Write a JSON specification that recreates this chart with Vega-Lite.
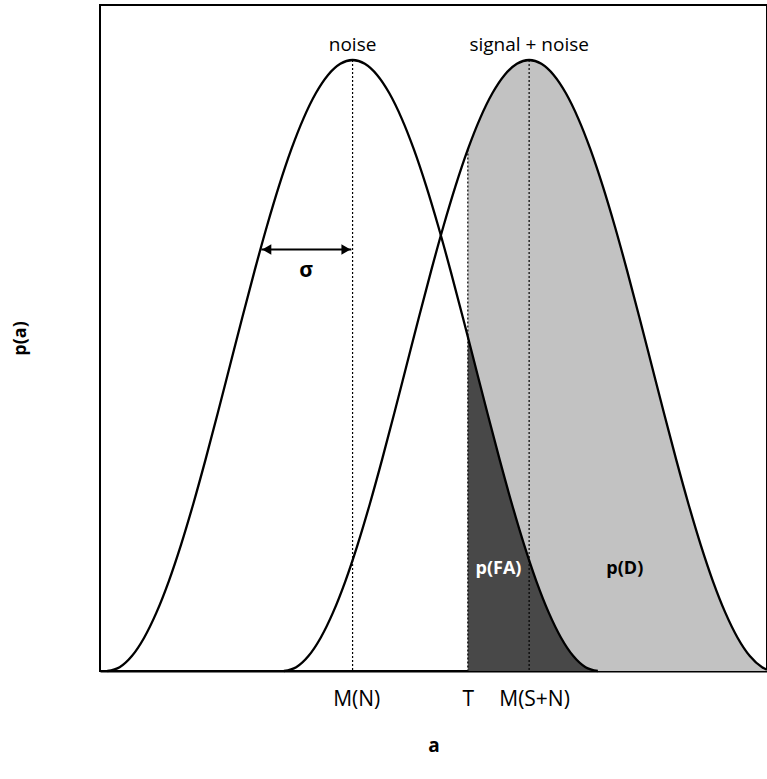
{
  "$schema": "https://vega.github.io/schema/vega-lite/v6.json",
  "autosize": {"type": "none"},
  "padding": {"left": 100, "top": 5, "right": 0, "bottom": 108},
  "width": 667,
  "height": 666,
  "background": "white",
  "config": {
    "view": {"stroke": "black", "strokeWidth": 2},
    "font": "Open Sans",
    "axis": {"labelFont": "Open Sans", "titleFont": "Open Sans", "labelColor": "black", "titleColor": "black", "grid": false}
  },
  "datasets": {
    "noise": [
      {"x": -10, "y": 0}, {"x": -9.5, "y": 0.0062}, {"x": -9, "y": 0.0245}, {"x": -8.5, "y": 0.0545},
      {"x": -8, "y": 0.0955}, {"x": -7.5, "y": 0.1464}, {"x": -7, "y": 0.2061}, {"x": -6.5, "y": 0.273},
      {"x": -6, "y": 0.3455}, {"x": -5.5, "y": 0.4218}, {"x": -5, "y": 0.5}, {"x": -4.5, "y": 0.5782},
      {"x": -4, "y": 0.6545}, {"x": -3.5, "y": 0.727}, {"x": -3, "y": 0.7939}, {"x": -2.5, "y": 0.8536},
      {"x": -2, "y": 0.9045}, {"x": -1.5, "y": 0.9455}, {"x": -1, "y": 0.9755}, {"x": -0.5, "y": 0.9938},
      {"x": 0, "y": 1}, {"x": 0.5, "y": 0.9938}, {"x": 1, "y": 0.9755}, {"x": 1.5, "y": 0.9455},
      {"x": 2, "y": 0.9045}, {"x": 2.5, "y": 0.8536}, {"x": 3, "y": 0.7939}, {"x": 3.5, "y": 0.727},
      {"x": 4, "y": 0.6545}, {"x": 4.5, "y": 0.5782}, {"x": 4.7, "y": 0.5471}, {"x": 5, "y": 0.5},
      {"x": 5.5, "y": 0.4218}, {"x": 6, "y": 0.3455}, {"x": 6.5, "y": 0.273}, {"x": 7, "y": 0.2061},
      {"x": 7.5, "y": 0.1464}, {"x": 8, "y": 0.0955}, {"x": 8.5, "y": 0.0545}, {"x": 9, "y": 0.0245},
      {"x": 9.5, "y": 0.0062}, {"x": 10, "y": 0}
    ],
    "signal": [
      {"x": -2.8, "y": 0}, {"x": -2.3, "y": 0.0062}, {"x": -1.8, "y": 0.0245}, {"x": -1.3, "y": 0.0545},
      {"x": -0.8, "y": 0.0955}, {"x": -0.3, "y": 0.1464}, {"x": 0.2, "y": 0.2061}, {"x": 0.7, "y": 0.273},
      {"x": 1.2, "y": 0.3455}, {"x": 1.7, "y": 0.4218}, {"x": 2.2, "y": 0.5}, {"x": 2.7, "y": 0.5782},
      {"x": 3.2, "y": 0.6545}, {"x": 3.7, "y": 0.727}, {"x": 4.2, "y": 0.7939}, {"x": 4.7, "y": 0.8536},
      {"x": 5.2, "y": 0.9045}, {"x": 5.7, "y": 0.9455}, {"x": 6.2, "y": 0.9755}, {"x": 6.7, "y": 0.9938},
      {"x": 7.2, "y": 1}, {"x": 7.7, "y": 0.9938}, {"x": 8.2, "y": 0.9755}, {"x": 8.7, "y": 0.9455},
      {"x": 9.2, "y": 0.9045}, {"x": 9.7, "y": 0.8536}, {"x": 10.2, "y": 0.7939}, {"x": 10.7, "y": 0.727},
      {"x": 11.2, "y": 0.6545}, {"x": 11.7, "y": 0.5782}, {"x": 12.2, "y": 0.5}, {"x": 12.7, "y": 0.4218},
      {"x": 13.2, "y": 0.3455}, {"x": 13.7, "y": 0.273}, {"x": 14.2, "y": 0.2061}, {"x": 14.7, "y": 0.1464},
      {"x": 15.2, "y": 0.0955}, {"x": 15.7, "y": 0.0545}, {"x": 16.2, "y": 0.0245}, {"x": 16.7, "y": 0.0062},
      {"x": 16.9, "y": 0.0022}
    ],
    "rules": [
      {"x": 0, "y": 1, "y2": 0},
      {"x": 4.7, "y": 0.8536, "y2": 0},
      {"x": 7.2, "y": 1, "y2": 0}
    ],
    "sigma": [{"x": -3.72, "x2": -0.05, "y": 0.69}],
    "heads": [
      {"x": -3.5, "y": 0.69, "shape": "triangle-left"},
      {"x": -0.27, "y": 0.69, "shape": "triangle-right"}
    ],
    "toplabels": [
      {"x": 0, "y": 1.025, "text": "noise"},
      {"x": 7.2, "y": 1.025, "text": "signal + noise"}
    ],
    "sigmalabel": [{"x": -1.9, "y": 0.655, "text": "σ"}],
    "falabel": [{"x": 5.95, "y": 0.167, "text": "p(FA)"}],
    "dlabel": [{"x": 11.1, "y": 0.167, "text": "p(D)"}]
  },
  "layer": [
    {
      "data": {"name": "signal"},
      "transform": [{"filter": "datum.x >= 4.7"}],
      "mark": {"type": "area", "interpolate": "monotone", "color": "#c2c2c2"},
      "encoding": {
        "x": {"field": "x", "type": "quantitative", "scale": {"domain": [-10.3, 16.9], "nice": false, "zero": false},
          "axis": {"title": "a", "titleFontSize": 19, "titleFontWeight": "bold", "titlePadding": 27,
            "values": [0.15, 4.7, 7.4], "labelExpr": "datum.value < 1 ? 'M(N)' : (datum.value < 5 ? 'T' : 'M(S+N)')",
            "labelFontSize": 21, "labelPadding": 17, "ticks": false, "tickSize": 0, "domainColor": "black", "domainWidth": 2, "labelFlush": false}},
        "y": {"field": "y", "type": "quantitative", "scale": {"domain": [0, 1.09], "nice": false},
          "axis": {"title": "p(a)", "titleFontSize": 18, "titleFontWeight": "bold", "labels": false, "ticks": false, "domain": false, "minExtent": 0, "maxExtent": 0, "titlePadding": 71}}
      }
    },
    {
      "data": {"name": "noise"},
      "transform": [{"filter": "datum.x >= 4.7"}],
      "mark": {"type": "area", "interpolate": "monotone", "color": "#484848"},
      "encoding": {"x": {"field": "x", "type": "quantitative"}, "y": {"field": "y", "type": "quantitative"}}
    },
    {
      "data": {"name": "noise"},
      "mark": {"type": "line", "interpolate": "monotone", "color": "black", "strokeWidth": 2.3},
      "encoding": {"x": {"field": "x", "type": "quantitative"}, "y": {"field": "y", "type": "quantitative"}}
    },
    {
      "data": {"name": "signal"},
      "mark": {"type": "line", "interpolate": "monotone", "color": "black", "strokeWidth": 2.3},
      "encoding": {"x": {"field": "x", "type": "quantitative"}, "y": {"field": "y", "type": "quantitative"}}
    },
    {
      "data": {"name": "rules"},
      "mark": {"type": "rule", "color": "black", "strokeWidth": 1.2, "strokeDash": [2, 2]},
      "encoding": {"x": {"field": "x", "type": "quantitative"}, "y": {"field": "y", "type": "quantitative"}, "y2": {"field": "y2"}}
    },
    {
      "data": {"name": "sigma"},
      "mark": {"type": "rule", "color": "black", "strokeWidth": 2},
      "encoding": {"x": {"field": "x", "type": "quantitative"}, "x2": {"field": "x2"}, "y": {"field": "y", "type": "quantitative"}}
    },
    {
      "data": {"name": "heads"},
      "mark": {"type": "point", "filled": true, "color": "black", "size": 110, "opacity": 1},
      "encoding": {"x": {"field": "x", "type": "quantitative"}, "y": {"field": "y", "type": "quantitative"},
        "shape": {"field": "shape", "type": "nominal", "scale": null, "legend": null}}
    },
    {
      "data": {"name": "toplabels"},
      "mark": {"type": "text", "font": "Open Sans", "fontSize": 19, "color": "black", "baseline": "middle", "align": "center"},
      "encoding": {"x": {"field": "x", "type": "quantitative"}, "y": {"field": "y", "type": "quantitative"}, "text": {"field": "text"}}
    },
    {
      "data": {"name": "sigmalabel"},
      "mark": {"type": "text", "font": "Open Sans", "fontSize": 21, "fontWeight": "bold", "color": "black", "baseline": "middle", "align": "center"},
      "encoding": {"x": {"field": "x", "type": "quantitative"}, "y": {"field": "y", "type": "quantitative"}, "text": {"field": "text"}}
    },
    {
      "data": {"name": "falabel"},
      "mark": {"type": "text", "font": "Open Sans", "fontSize": 18, "fontWeight": "bold", "color": "white", "baseline": "middle", "align": "center"},
      "encoding": {"x": {"field": "x", "type": "quantitative"}, "y": {"field": "y", "type": "quantitative"}, "text": {"field": "text"}}
    },
    {
      "data": {"name": "dlabel"},
      "mark": {"type": "text", "font": "Open Sans", "fontSize": 18, "fontWeight": "bold", "color": "black", "baseline": "middle", "align": "center"},
      "encoding": {"x": {"field": "x", "type": "quantitative"}, "y": {"field": "y", "type": "quantitative"}, "text": {"field": "text"}}
    }
  ]
}
